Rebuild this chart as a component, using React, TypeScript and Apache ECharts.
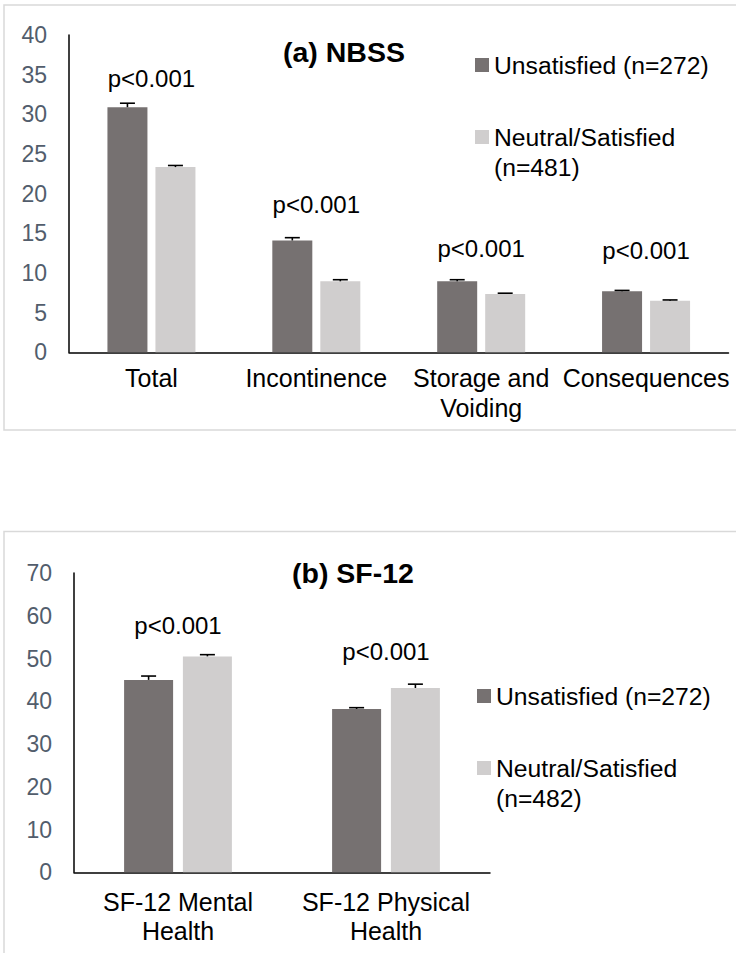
import React, { useEffect, useRef } from "react";
import * as echarts from "echarts";

// ---- Panel (a) NBSS ----
const nbssCategories = ["Total", "Incontinence", "Storage and\nVoiding", "Consequences"];
const nbssUnsatisfied = [30.9, 14.1, 8.95, 7.7];
const nbssUnsatisfiedErr = [0.5, 0.35, 0.2, 0.1];
const nbssNeutral = [23.35, 8.95, 7.35, 6.5];
const nbssNeutralErr = [0.2, 0.2, 0.1, 0.1];
const nbssPLabelY = [34.5, 18.6, 13.1, 12.8];
const nbssTicks = [0, 5, 10, 15, 20, 25, 30, 35, 40];

// ---- Panel (b) SF-12 ----
const sfCategories = ["SF-12 Mental\nHealth", "SF-12 Physical\nHealth"];
const sfUnsatisfied = [45.0, 38.2];
const sfUnsatisfiedErr = [0.9, 0.3];
const sfNeutral = [50.5, 43.1];
const sfNeutralErr = [0.4, 0.9];
const sfPLabelY = [57.8, 51.6];
const sfTicks = [0, 10, 20, 30, 40, 50, 60, 70];

const pText = "p<0.001";
const nameUnsat = "Unsatisfied (n=272)";
const nameNeutralA = "Neutral/Satisfied (n=481)";
const nameNeutralB = "Neutral/Satisfied (n=482)";

const DARK = "#767171";
const LIGHT = "#d0cece";
const FONT = "'Liberation Sans', Arial, sans-serif";

function errorSeries(
  name: string,
  values: number[],
  errs: number[],
  xAxisIndex: number,
  offset: number
) {
  return {
    type: "custom",
    name: name + " err",
    xAxisIndex,
    yAxisIndex: xAxisIndex,
    silent: true,
    z: 5,
    data: values.map((v, i) => [i, v, errs[i]]),
    renderItem: (params: any, api: any) => {
      const i = api.value(0);
      const v = api.value(1);
      const e = api.value(2);
      const base = api.coord([i, v]);
      const top = api.coord([i, v + e]);
      const x = base[0] + offset;
      const st = { stroke: "#000", lineWidth: 1.6 };
      return {
        type: "group",
        children: [
          { type: "line", shape: { x1: x, y1: base[1], x2: x, y2: top[1] }, style: st },
          { type: "line", shape: { x1: x - 7.5, y1: top[1], x2: x + 7.5, y2: top[1] }, style: st },
        ],
      };
    },
  };
}

function pSeries(ys: number[], xAxisIndex: number) {
  return {
    type: "scatter",
    name: "p",
    xAxisIndex,
    yAxisIndex: xAxisIndex,
    symbolSize: 1,
    silent: true,
    itemStyle: { color: "transparent", opacity: 1 },
    label: {
      show: true,
      position: "inside",
      formatter: pText,
      fontSize: 24,
      color: "#000",
      opacity: 1,
      fontFamily: FONT,
    },
    data: ys.map((y, i) => [i, y]),
  };
}

export default function App() {
  const ref = useRef<HTMLDivElement>(null);

  useEffect(() => {
    if (!ref.current) return;
    const chart = echarts.init(ref.current, undefined, { renderer: "svg" });

    const yLabel = { fontSize: 23, color: "#525d6c", margin: 22, fontFamily: FONT };
    const legendText = { fontSize: 24.7, color: "#000", lineHeight: 30, fontFamily: FONT };

    const option: any = {
      animation: false,
      backgroundColor: "#fff",
      title: [
        {
          text: "(a) NBSS",
          left: 344,
          top: 37,
          textAlign: "center",
          padding: 0,
          textStyle: { fontSize: 28.5, fontWeight: "bold", color: "#000", fontFamily: FONT },
        },
        {
          text: "(b) SF-12",
          left: 353,
          top: 558,
          textAlign: "center",
          padding: 0,
          textStyle: { fontSize: 28.5, fontWeight: "bold", color: "#000", fontFamily: FONT },
        },
      ],
      legend: [
        {
          data: [nameUnsat],
          left: 475,
          top: 50,
          padding: 0,
          icon: "rect",
          itemWidth: 14,
          itemHeight: 14,
          itemGap: 5,
          selectedMode: false,
          textStyle: legendText,
        },
        {
          data: [nameNeutralA],
          left: 475,
          top: 92,
          padding: 0,
          icon: "rect",
          itemWidth: 14,
          itemHeight: 14,
          selectedMode: false,
          formatter: () => " \nNeutral/Satisfied\n(n=481)",
          textStyle: legendText,
        },
        {
          data: [nameUnsat],
          left: 477,
          top: 681,
          padding: 0,
          icon: "rect",
          itemWidth: 14,
          itemHeight: 14,
          selectedMode: false,
          textStyle: legendText,
        },
        {
          data: [nameNeutralB],
          left: 477,
          top: 723,
          padding: 0,
          icon: "rect",
          itemWidth: 14,
          itemHeight: 14,
          selectedMode: false,
          formatter: () => " \nNeutral/Satisfied\n(n=482)",
          textStyle: legendText,
        },
      ],
      graphic: [
        {
          type: "rect",
          z: -10,
          shape: { x: 4, y: 5, width: 800, height: 425 },
          style: { fill: "none", stroke: "#d9d9d9", lineWidth: 1.5 },
          silent: true,
        },
        {
          type: "rect",
          z: -10,
          shape: { x: 4, y: 531.5, width: 800, height: 600 },
          style: { fill: "none", stroke: "#d9d9d9", lineWidth: 1.5 },
          silent: true,
        },
      ],
      grid: [
        { left: 69, right: 7.5, top: 35, height: 317.3, containLabel: false },
        { left: 74, right: 246, top: 573, height: 299.3, containLabel: false },
      ],
      xAxis: [
        {
          type: "category",
          gridIndex: 0,
          data: nbssCategories,
          axisTick: { show: false },
          axisLine: { lineStyle: { color: "#000", width: 1.5 } },
          axisLabel: {
            interval: 0,
            fontSize: 25,
            lineHeight: 30,
            margin: 11,
            color: "#000",
            fontFamily: FONT,
          },
        },
        {
          type: "category",
          gridIndex: 1,
          data: sfCategories,
          axisTick: { show: false },
          axisLine: { lineStyle: { color: "#000", width: 1.5 } },
          axisLabel: {
            interval: 0,
            fontSize: 25,
            lineHeight: 29,
            margin: 15,
            color: "#000",
            fontFamily: FONT,
          },
        },
      ],
      yAxis: [
        {
          type: "value",
          gridIndex: 0,
          min: nbssTicks[0],
          max: nbssTicks[nbssTicks.length - 1],
          interval: nbssTicks[1] - nbssTicks[0],
          splitLine: { show: false },
          axisLine: { show: true, lineStyle: { color: "#000", width: 1.5 } },
          axisTick: { show: false },
          axisLabel: yLabel,
        },
        {
          type: "value",
          gridIndex: 1,
          min: sfTicks[0],
          max: sfTicks[sfTicks.length - 1],
          interval: sfTicks[1] - sfTicks[0],
          splitLine: { show: false },
          axisLine: { show: true, lineStyle: { color: "#000", width: 1.5 } },
          axisTick: { show: false },
          axisLabel: yLabel,
        },
      ],
      series: [
        {
          type: "bar",
          name: nameUnsat,
          xAxisIndex: 0,
          yAxisIndex: 0,
          data: nbssUnsatisfied,
          barWidth: 40,
          barGap: "20%",
          itemStyle: { color: DARK },
        },
        {
          type: "bar",
          name: nameNeutralA,
          xAxisIndex: 0,
          yAxisIndex: 0,
          data: nbssNeutral,
          barWidth: 40,
          barGap: "20%",
          itemStyle: { color: LIGHT },
        },
        errorSeries(nameUnsat, nbssUnsatisfied, nbssUnsatisfiedErr, 0, -24),
        errorSeries(nameNeutralA, nbssNeutral, nbssNeutralErr, 0, 24),
        pSeries(nbssPLabelY, 0),
        {
          type: "bar",
          name: nameUnsat,
          xAxisIndex: 1,
          yAxisIndex: 1,
          data: sfUnsatisfied,
          barWidth: 49,
          barGap: "20%",
          itemStyle: { color: DARK },
        },
        {
          type: "bar",
          name: nameNeutralB,
          xAxisIndex: 1,
          yAxisIndex: 1,
          data: sfNeutral,
          barWidth: 49,
          barGap: "20%",
          itemStyle: { color: LIGHT },
        },
        errorSeries(nameUnsat, sfUnsatisfied, sfUnsatisfiedErr, 1, -29.4),
        errorSeries(nameNeutralB, sfNeutral, sfNeutralErr, 1, 29.4),
        pSeries(sfPLabelY, 1),
      ],
    };

    chart.setOption(option);
    return () => chart.dispose();
  }, []);

  return (
    <div
      ref={ref}
      style={{ position: "absolute", left: 0, top: 0, width: 736, height: 953, background: "#fff" }}
    />
  );
}
